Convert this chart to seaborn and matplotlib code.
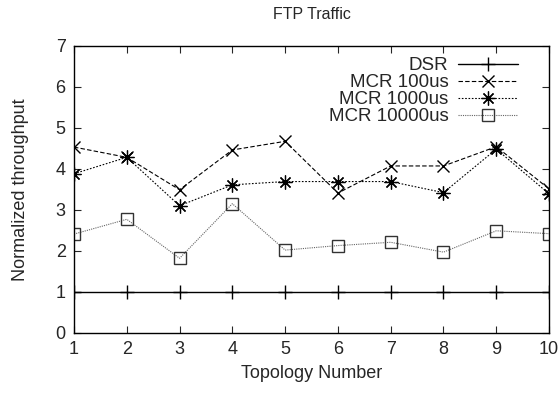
import matplotlib
matplotlib.use("Agg")
import matplotlib.pyplot as plt
import seaborn as sns
import pandas as pd

# data
topology = [1, 2, 3, 4, 5, 6, 7, 8, 9, 10]
dsr = [1, 1, 1, 1, 1, 1, 1, 1, 1, 1]
mcr_100 = [4.53, 4.28, 3.49, 4.46, 4.67, 3.41, 4.07, 4.07, 4.54, 3.51]
mcr_1000 = [3.88, 4.28, 3.10, 3.61, 3.69, 3.69, 3.69, 3.42, 4.48, 3.39]
mcr_10000 = [2.41, 2.77, 1.82, 3.15, 2.02, 2.13, 2.21, 1.97, 2.49, 2.42]

sns.set_theme(style="ticks")
plt.rcParams["font.family"] = ["Liberation Sans", "DejaVu Sans"]

df = pd.DataFrame({"topo": topology, "DSR": dsr, "MCR 100us": mcr_100,
                   "MCR 1000us": mcr_1000, "MCR 10000us": mcr_10000})

fig = plt.figure(figsize=(5.58, 3.93), dpi=100)
ax = fig.add_axes([0.1326, 0.1527, 0.8514, 0.731])

styles = {
    "DSR": dict(color="black", linestyle="-", marker="+", markersize=10, linewidth=1,
                markeredgecolor="black", markeredgewidth=1),
    "MCR 100us": dict(color="black", linestyle=(0, (4, 2)), marker="x", markersize=8, linewidth=0.8,
                      markeredgecolor="black", markeredgewidth=1),
    "MCR 1000us": dict(color="black", linestyle=(0, (1.5, 1.5)), marker=(8, 2, 0), markersize=10,
                       linewidth=0.8, markeredgecolor="black", markeredgewidth=0.9),
    "MCR 10000us": dict(color="#666666", linestyle=(0, (1, 1)), marker="s", markersize=8,
                        markerfacecolor="none", markeredgecolor="#333333", markeredgewidth=1,
                        linewidth=0.8),
}
for name, st in styles.items():
    sns.lineplot(data=df, x="topo", y=name, ax=ax, label=name, **st)

ax.set_xlim(1, 10)
ax.set_ylim(0, 7)
ax.set_xticks(topology)
ax.set_yticks(range(0, 8))
ax.tick_params(direction="in", length=5, labelsize=13, top=True, right=True, pad=6, width=0.8)
for s in ax.spines.values():
    s.set_linewidth(1)
    s.set_color("black")
ax.set_title("FTP Traffic", fontsize=11.5, pad=19)
ax.set_xlabel("Topology Number", fontsize=13, labelpad=5)
ax.set_ylabel("Normalized throughput", fontsize=13, labelpad=19)
ax.legend(loc="upper right", bbox_to_anchor=(0.958, 1.0), frameon=False, markerfirst=False,
          fontsize=13.5, handlelength=3.2, labelspacing=0.0, borderaxespad=0.2, handletextpad=0.5)

fig.savefig("out.png", dpi=100)
